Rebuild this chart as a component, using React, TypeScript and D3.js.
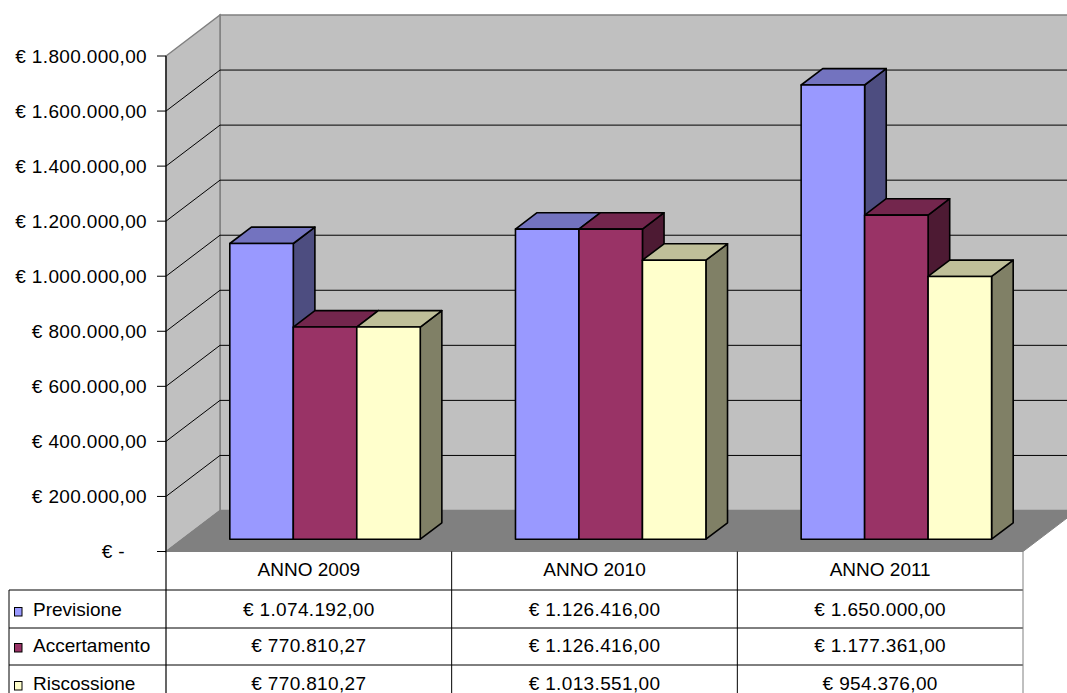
import React from "react";
import * as d3 from "d3";

const categories = ["ANNO 2009", "ANNO 2010", "ANNO 2011"];
const seriesNames = ["Previsione", "Accertamento", "Riscossione"];
const previsione = [1074192, 1126416, 1650000];
const accertamento = [770810.27, 1126416, 1177361];
const riscossione = [770810.27, 1013551, 954376];
const yTicks = [0, 200000, 400000, 600000, 800000, 1000000, 1200000, 1400000, 1600000, 1800000];

const seriesValues = [previsione, accertamento, riscossione];
const colors = [
  { front: "#9999FF", top: "#7373BF", side: "#4D4D80" },
  { front: "#993366", top: "#73264D", side: "#4D1A33" },
  { front: "#FFFFCC", top: "#BFBF99", side: "#808066" },
];

const W = 1067;
const H = 693;
const X0 = 166;
const X1 = 1023;
const Y_ZERO = 551.5;
const Y_TOP = 56;
const DX = 54;
const DY = 41;
const D0 = 0.3;
const D1 = 0.7;
const FONT = "'Liberation Sans', Arial, sans-serif";
const FS = 19;
const LS = 0.35;

const locale = d3.formatLocale({ decimal: ",", thousands: ".", grouping: [3], currency: ["€ ", ""] });
const fmt = locale.format(",.2f");
const euro = (v: number) => (v === 0 ? "€ -" : "€ " + fmt(v));

export default function App() {
  const y = d3.scaleLinear().domain([0, 1800000]).range([Y_ZERO, Y_TOP]);
  const xCat = d3.scaleBand<string>().domain(categories).range([X0, X1]);
  const catW = xCat.bandwidth();
  const barW = catW / 4.5;
  const xSer = d3
    .scaleBand<string>()
    .domain(seriesNames)
    .range([barW * 0.75, barW * 0.75 + barW * 3]);

  const P = (x: number, v: number, d: number): [number, number] => [x + d * DX, y(v) - d * DY];
  const poly = (pts: [number, number][]) => pts.map((p) => p.join(",")).join(" ");

  const wallStroke = "#808080";
  const floorBackY = Y_ZERO - DY;

  const bars: React.ReactNode[] = [];
  categories.forEach((c, ci) => {
    seriesNames.forEach((s, si) => {
      const v = seriesValues[si][ci];
      const xl = (xCat(c) as number) + (xSer(s) as number);
      const xr = xl + barW;
      const col = colors[si];
      const front = [P(xl, 0, D0), P(xr, 0, D0), P(xr, v, D0), P(xl, v, D0)] as [number, number][];
      const top = [P(xl, v, D0), P(xr, v, D0), P(xr, v, D1), P(xl, v, D1)] as [number, number][];
      const side = [P(xr, 0, D0), P(xr, 0, D1), P(xr, v, D1), P(xr, v, D0)] as [number, number][];
      bars.push(
        <g key={c + s} stroke="#000" strokeWidth={1.6} strokeLinejoin="round">
          <polygon points={poly(side)} fill={col.side} />
          <polygon points={poly(top)} fill={col.top} />
          <polygon points={poly(front)} fill={col.front} />
        </g>
      );
    });
  });

  const rowTops = [Y_ZERO, 590, 628, 665, 703];
  const baselines = [576, 616, 652, 690];

  return (
    <svg width={W} height={H} style={{ position: "absolute", left: 0, top: 0, background: "#fff" }} fontFamily={FONT}>
      <rect x={0} y={0} width={W} height={H} fill="#fff" />
      {/* back wall */}
      <polygon
        points={poly([
          [X0 + DX, Y_TOP - DY],
          [X1 + DX, Y_TOP - DY],
          [X1 + DX, floorBackY],
          [X0 + DX, floorBackY],
        ])}
        fill="#C0C0C0"
        stroke={wallStroke}
        strokeWidth={1.5}
      />
      {/* left wall */}
      <polygon
        points={poly([
          [X0, Y_ZERO],
          [X0, Y_TOP],
          [X0 + DX, Y_TOP - DY],
          [X0 + DX, floorBackY],
        ])}
        fill="#C0C0C0"
        stroke={wallStroke}
        strokeWidth={1.5}
      />
      {/* gridlines */}
      {yTicks.slice(1, -1).map((t) => (
        <g key={t} stroke="#000" strokeWidth={1}>
          <line x1={X0} y1={y(t)} x2={X0 + DX} y2={y(t) - DY} />
          <line x1={X0 + DX} y1={y(t) - DY} x2={X1 + DX} y2={y(t) - DY} />
        </g>
      ))}
      {/* floor */}
      <polygon
        points={poly([
          [X0, Y_ZERO],
          [X1, Y_ZERO],
          [X1 + DX, floorBackY],
          [X0 + DX, floorBackY],
        ])}
        fill="#808080"
        stroke="#808080"
        strokeWidth={1}
      />
      {/* y axis */}
      <line x1={X0} y1={Y_TOP} x2={X0} y2={H} stroke="#000" strokeWidth={1.2} />
      {yTicks.map((t) => (
        <g key={"t" + t}>
          <line x1={X0 - 9} y1={y(t)} x2={X0} y2={y(t)} stroke="#000" strokeWidth={1} />
          <text
            x={t === 0 ? 125 : 147}
            y={y(t) + 6.7}
            textAnchor="end"
            fontSize={FS}
            letterSpacing={LS}
            fill="#000"
          >
            {euro(t)}
          </text>
        </g>
      ))}
      {bars}
      {/* data table */}
      <g stroke="#000" strokeWidth={1}>
        {rowTops.slice(1, 4).map((ry) => (
          <line key={"h" + ry} x1={9} y1={ry} x2={X1} y2={ry} />
        ))}
        <line x1={9} y1={590} x2={9} y2={H} />
        {categories.slice(1).map((c) => (
          <line key={"v" + c} x1={xCat(c) as number} y1={Y_ZERO} x2={xCat(c) as number} y2={H} />
        ))}
        <line x1={X1} y1={Y_ZERO} x2={X1} y2={H} stroke="#808080" />
      </g>
      {categories.map((c) => (
        <text key={"c" + c} x={(xCat(c) as number) + catW / 2} y={baselines[0]} textAnchor="middle" fontSize={FS} fill="#000">
          {c}
        </text>
      ))}
      {seriesNames.map((s, si) => (
        <g key={"r" + s}>
          <rect x={14.5} y={baselines[si + 1] - 8.5} width={7.5} height={8.5} fill={colors[si].front} stroke="#000" strokeWidth={1} />
          <text x={33} y={baselines[si + 1]} fontSize={FS} fill="#000">
            {s}
          </text>
          {categories.map((c, ci) => (
            <text
              key={c}
              x={(xCat(c) as number) + catW / 2}
              y={baselines[si + 1]}
              textAnchor="middle"
              fontSize={FS}
              letterSpacing={LS}
              fill="#000"
            >
              {euro(seriesValues[si][ci])}
            </text>
          ))}
        </g>
      ))}
    </svg>
  );
}
